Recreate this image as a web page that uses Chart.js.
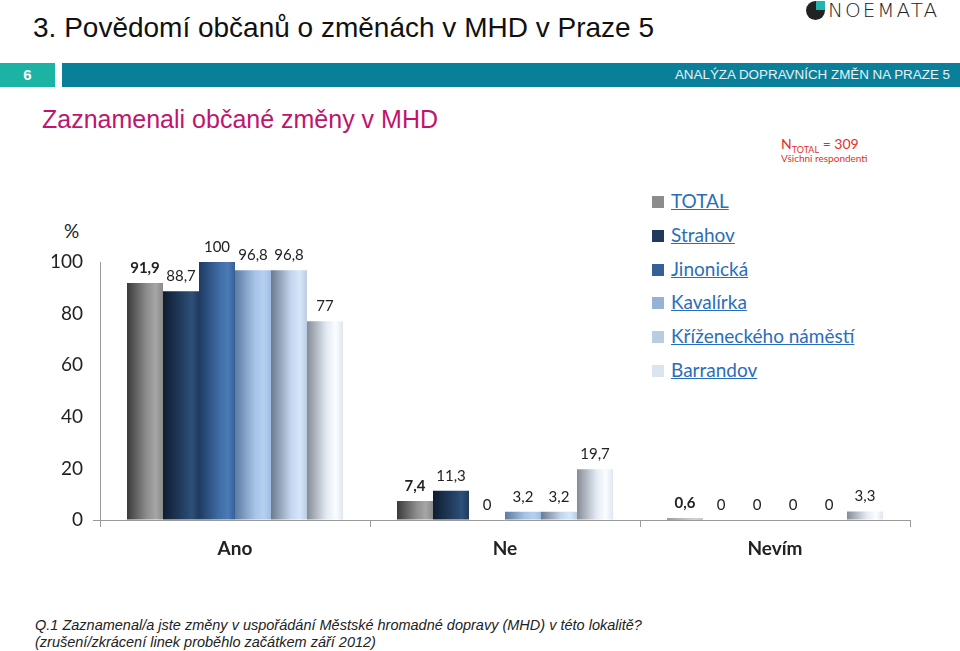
<!DOCTYPE html>
<html lang="cs">
<head>
  <meta charset="UTF-8">
  <title>Povědomí občanů o změnách v MHD</title>
  <script src="https://cdn.jsdelivr.net/npm/chart.js"></script>
  <style>
    body { margin: 0; width: 960px; height: 651px; background: #fff; position: relative; overflow: hidden; font-family: 'Liberation Sans', Arial, sans-serif; }
    .abs { position: absolute; white-space: nowrap; }
    #title { left: 33px; top: 12px; font-size: 28px; color: #111; }
    #logo { left: 806px; top: -2px; font-size: 20px; color: #222; letter-spacing: 2px; font-family: 'DejaVu Sans', sans-serif; font-weight: 300; }
    #logo .dot { display: inline-block; width: 19px; height: 19px; background: #222; border-radius: 50% 0 50% 50%; vertical-align: -3px; margin-right: 3px; position: relative; }
    #logo .dot:after { content: ''; position: absolute; right: 0; top: 0; width: 9px; height: 9px; background: #22b5b0; }
    #band6 { left: 0; top: 63px; width: 55px; height: 24px; background: #1db3a4; color: #fff; font-weight: bold; font-size: 15px; text-align: center; line-height: 24px; }
    #band { left: 62px; top: 63px; width: 898px; height: 24px; background: #0a7f9a; }
    #bandtxt { right: 10px; top: 67px; font-size: 13.4px; color: #e6f3f6; }
    #sub { left: 42px; top: 105px; font-size: 25px; color: #c0146e; }
    #ntot { left: 781px; top: 135px; font-size: 14px; color: #e0302a; font-family: Lato, sans-serif; }
    #ntot sub { font-size: 9px; }
    #resp { left: 781px; top: 152px; font-size: 10px; color: #e0302a; font-family: Lato, sans-serif; }
    #pct { left: 64px; top: 219px; font-size: 19px; color: #222; font-family: Lato, sans-serif; }
    #legend { left: 652px; top: 186px; font-family: Lato, sans-serif; font-size: 19px; }
    #legend div { height: 33.8px; line-height: 30px; }
    #legend span.sw { display: inline-block; width: 12px; height: 12px; margin-right: 7px; vertical-align: 0px; }
    #legend span.tx { color: #2a6ebb; text-decoration: underline; }
    #foot { left: 35px; top: 617px; font-size: 14.5px; font-style: italic; color: #222; line-height: 16.5px; }
    #wrap { position: absolute; left: 0; top: 200px; width: 960px; height: 380px; }
  </style>
</head>
<body>
  <div id="title" class="abs">3. Povědomí občanů o změnách v MHD v Praze 5</div>
  <div id="logo" class="abs"><span class="dot"></span>NOEMATA</div>
  <div id="band6" class="abs">6</div>
  <div id="band" class="abs"></div>
  <div id="bandtxt" class="abs">ANALÝZA DOPRAVNÍCH ZMĚN NA PRAZE 5</div>
  <div id="sub" class="abs">Zaznamenali občané změny v MHD</div>
  <div id="ntot" class="abs">N<sub>TOTAL</sub> = 309</div>
  <div id="resp" class="abs">Všichni respondenti</div>
  <div id="pct" class="abs">%</div>
  <div id="legend" class="abs"></div>
  <div id="wrap"><canvas id="chart"></canvas></div>
  <div id="foot" class="abs">Q.1 Zaznamenal/a jste změny v uspořádání Městské hromadné dopravy (MHD) v této lokalitě?<br>(zrušení/zkrácení linek proběhlo začátkem září 2012)</div>

  <script>
    const categories = ['Ano', 'Ne', 'Nevím'];
    const seriesNames = ['TOTAL', 'Strahov', 'Jinonická', 'Kavalírka', 'Kříženeckého náměstí', 'Barrandov'];
    const total = [91.9, 7.4, 0.6];
    const strahov = [88.7, 11.3, 0];
    const jinonicka = [100, 0, 0];
    const kavalirka = [96.8, 3.2, 0];
    const krizeneckeho = [96.8, 3.2, 0];
    const barrandov = [77, 19.7, 3.3];
    const yTicks = [0, 20, 40, 60, 80, 100];

    const seriesValues = [total, strahov, jinonicka, kavalirka, krizeneckeho, barrandov];
    const legendColors = ['#8c8c8c', '#1f3a5c', '#36609a', '#95b3d7', '#b8cce4', '#dbe5f1'];
    // horizontal shading of each bar: left edge -> highlight -> right edge
    const shades = [
      ['#3a3a3a', '#8e8e8e', '#a6a6a6', '#8a8a8a'],
      ['#0e1d31', '#243f62', '#2e5078', '#1f3a5c'],
      ['#1d3b63', '#3f6ba3', '#4c7bb5', '#36609a'],
      ['#5c7ba3', '#a6c2e6', '#b6d0f0', '#9fbce2'],
      ['#6d7a8c', '#c2d5ee', '#d6e6fa', '#bccde3'],
      ['#858c96', '#e4ebf5', '#fbfdff', '#dfe6ef']
    ];

    const legend = document.getElementById('legend');
    seriesNames.forEach((name, i) => {
      const row = document.createElement('div');
      row.innerHTML = '<span class="sw" style="background:' + legendColors[i] + '"></span><span class="tx">' + name + '</span>';
      legend.appendChild(row);
    });

    const shading = {
      id: 'shading',
      beforeDatasetsDraw(chart) {
        const ctx = chart.ctx;
        chart.data.datasets.forEach((ds, di) => {
          chart.getDatasetMeta(di).data.forEach(el => {
            const x0 = el.x - el.width / 2, x1 = el.x + el.width / 2;
            const g = ctx.createLinearGradient(x0, 0, x1, 0);
            const s = shades[di];
            g.addColorStop(0, s[0]);
            g.addColorStop(0.55, s[1]);
            g.addColorStop(0.8, s[2]);
            g.addColorStop(1, s[3]);
            el.options = Object.assign({}, el.options, { backgroundColor: g });
          });
        });
      }
    };

    const valueLabels = {
      id: 'valueLabels',
      afterDatasetsDraw(chart) {
        const ctx = chart.ctx;
        ctx.save();
        ctx.textAlign = 'center';
        ctx.textBaseline = 'middle';
        ctx.fillStyle = '#222';
        chart.data.datasets.forEach((ds, di) => {
          ctx.font = (di === 0 ? 'bold ' : '') + '15px Lato, sans-serif';
          chart.getDatasetMeta(di).data.forEach((el, i) => {
            ctx.fillText(String(ds.data[i]).replace('.', ','), el.x, el.y - 15);
          });
        });
        ctx.restore();
      }
    };

    new Chart(document.getElementById('chart'), {
      type: 'bar',
      data: {
        labels: categories,
        datasets: seriesNames.map((name, i) => ({
          label: name,
          data: seriesValues[i],
          backgroundColor: legendColors[i],
          barPercentage: 1,
          categoryPercentage: 0.8
        }))
      },
      options: {
        responsive: true,
        maintainAspectRatio: false,
        animation: false,
        layout: { padding: { top: 62, right: 50, left: 0, bottom: 0 } },
        plugins: { legend: { display: false }, tooltip: { enabled: false } },
        scales: {
          x: {
            afterFit: s => { s.height = 60; },
            border: { color: '#9a9a9a', width: 1 },
            grid: { drawOnChartArea: false, tickLength: 7, color: '#9a9a9a' },
            ticks: { color: '#222', font: { family: 'Lato', size: 19, weight: 'bold' }, padding: 10 }
          },
          y: {
            min: 0,
            max: 100,
            afterFit: s => { s.width = 100; },
            afterBuildTicks: s => { s.ticks = yTicks.map(v => ({ value: v })); },
            border: { color: '#9a9a9a', width: 1 },
            grid: { drawOnChartArea: false, tickLength: 7, color: c => c.tick && c.tick.value === 0 ? '#9a9a9a' : 'rgba(0,0,0,0)' },
            ticks: { color: '#222', font: { family: 'Lato', size: 19 }, padding: 10 }
          }
        }
      },
      plugins: [shading, valueLabels]
    });
  </script>
</body>
</html>
